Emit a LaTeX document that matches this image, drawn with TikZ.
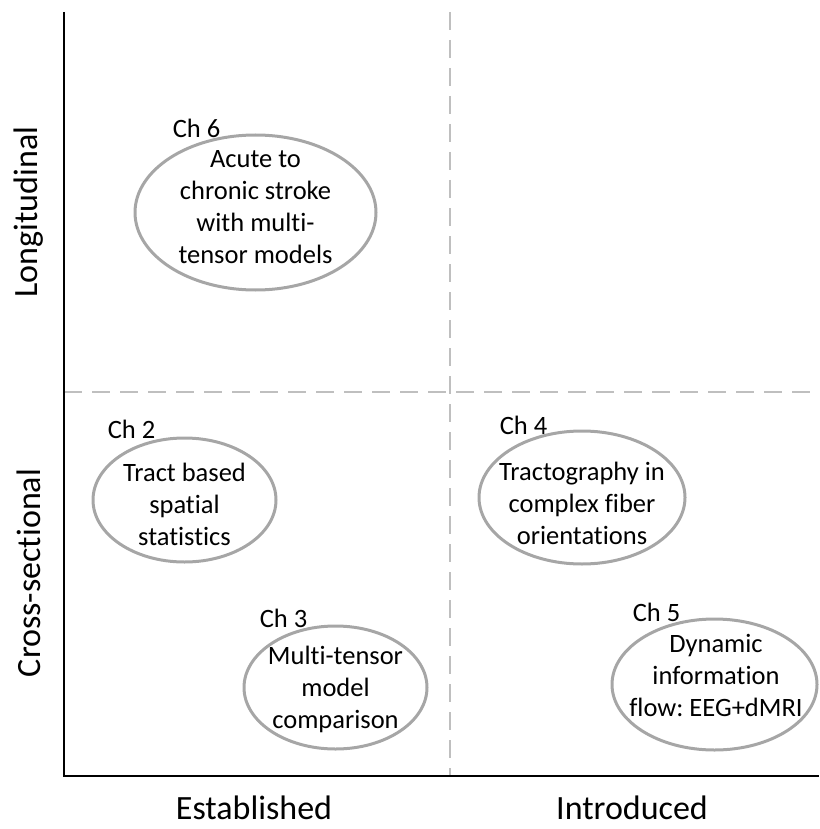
\documentclass[tikz,border=0pt]{standalone}
\usepackage{fontspec}
\setmainfont{Carlito}[RawFeature={-liga}]
\usetikzlibrary{shapes.geometric}
\definecolor{dashgray}{RGB}{191,191,191}
\definecolor{ellgray}{RGB}{166,166,166}
\frenchspacing
\begin{document}
\begin{tikzpicture}[x=1pt,y=-1pt,
  axisline/.style={line width=2.5pt,black},
  divider/.style={line width=2pt,dashgray,dash pattern=on 18pt off 10pt},
  chapell/.style={ellipse,draw=ellgray,line width=3pt,inner sep=0pt},
  chaptext/.style={align=center,font=\fontsize{26.5}{32}\selectfont,inner sep=0pt},
  chaplabel/.style={font=\fontsize{26.5}{32}\selectfont,inner sep=0pt},
  axislabel/.style={font=\fontsize{34}{40}\selectfont,inner sep=0pt}]
\useasboundingbox (0,0) rectangle (819,829);
% axes and dividers
\coordinate (top) at (64,12);
\coordinate (origin) at (64,776);
\coordinate (right) at (819,776);
\coordinate (vtop) at (450,12);
\coordinate (vbot) at (450,776);
\coordinate (hl) at (64,392);
\coordinate (hr) at (819,392);
\draw[divider] (vtop) -- (vbot);
\draw[divider] (hl) -- (hr);
\draw[axisline] (top) -- (origin) -- (right);
% axis labels
\node[axislabel,rotate=90] (longi) at (29,212) {Longitudinal};
\node[axislabel,rotate=90] (cross) at (29,573) {Cross-sectional};
\node[axislabel] (estab) at (254,808) {Established};
\node[axislabel] (intro) at (632,808) {Introduced};
% chapter 6
\node[chapell,minimum width=241pt,minimum height=155pt] (e6) at (255.5,212.5) {};
\node[chaptext] (t6) at (255.5,207) {Acute to\\chronic stroke\\with multi-\\tensor models};
\node[chaplabel] (c6) at (196.5,128) {Ch 6};
% chapter 2
\node[chapell,minimum width=183pt,minimum height=124pt] (e2) at (184.5,500) {};
\node[chaptext] (t2) at (184.5,504) {Tract based\\spatial\\statistics};
\node[chaplabel] (c2) at (131.5,429) {Ch 2};
% chapter 3
\node[chapell,minimum width=183pt,minimum height=123pt] (e3) at (335.5,687.5) {};
\node[chaptext] (t3) at (335.5,689) {Multi-tensor\\model\\comparison};
\node[chaplabel] (c3) at (283.5,618) {Ch 3};
% chapter 4
\node[chapell,minimum width=206pt,minimum height=133pt] (e4) at (582,497.5) {};
\node[chaptext] (t4) at (582,503) {Tractography in\\complex fiber\\orientations};
\node[chaplabel] (c4) at (523.5,425) {Ch 4};
% chapter 5
\node[chapell,minimum width=205pt,minimum height=131pt] (e5) at (714.5,684.5) {};
\node[chaptext] (t5) at (716,675) {Dynamic\\information\\flow: EEG+dMRI};
\node[chaplabel] (c5) at (656.5,612) {Ch 5};
\end{tikzpicture}
\end{document}
